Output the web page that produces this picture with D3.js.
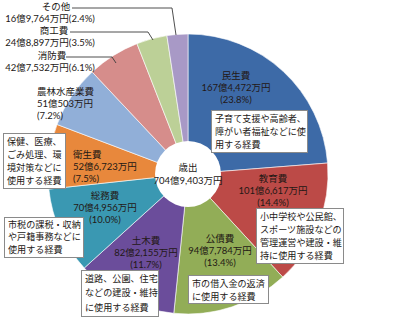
<!DOCTYPE html>
<html><head><meta charset="utf-8">
<script src="https://cdn.jsdelivr.net/npm/d3@7"></script>
<style>
html,body{margin:0;padding:0;background:#fff;}
svg{display:block;font-family:Lato,"Noto Sans CJK JP","Noto Sans",sans-serif;}
.lab{font-family:Lato,"Noto Sans CJK JP","Noto Sans",sans-serif;color:#231815;white-space:nowrap;margin:0;padding:0;}
.box{font-family:Lato,"Noto Sans CJK JP","Noto Sans",sans-serif;color:#231815;white-space:nowrap;background:#fff;
  border:1px solid #8a8a8a;box-sizing:border-box;width:100%;height:100%;padding:0 0 0 3px;}
</style></head>
<body><svg id="c" width="400" height="319"></svg>
<script>
// ---- data ----
const categories = ["民生費","教育費","公債費","土木費","総務費","衛生費","農林水産業費","消防費","商工費","その他"];
const valuesMan = [1674472,1016617,947784,822155,704956,526723,510503,427532,248897,169764]; // 万円
const descriptions = [
  ["子育て支援や高齢者、","障がい者福祉などに使","用する経費"],
  ["小中学校や公民館、","スポーツ施設などの","管理運営や建設・維","持に使用する経費"],
  ["市の借入金の返済","に使用する経費"],
  ["道路、公園、住宅","などの建設・維持","に使用する経費"],
  ["市税の課税・収納","や戸籍事務などに","使用する経費"],
  ["保健、医療、","ごみ処理、環","境対策などに","使用する経費"],
  null,null,null,null
];
const centerTitle = "歳出";
const colors = ["#3D6AA7","#BC4A47","#92AD57","#6B4D9B","#3A98B2","#E8883C","#91AFD8","#D68D8B","#BCD097","#A899C6"];

// ---- layout ----
const W=400,H=319,cx=188,cy=174,R=140,r0=33;
const fs=9.5, bfs=9.1, lhLabel=12;
const labelLayout = [
  {x:236,y:76,anchor:"middle"},
  {x:273,y:179,anchor:"middle"},
  {x:220,y:239,anchor:"middle"},
  {x:146,y:241,anchor:"middle"},
  {x:105,y:196,anchor:"middle"},
  {x:73,y:155,anchor:"start"},
  {x:37,y:92,anchor:"start"},
  {x:50,y:56,anchor:"middle",titleDx:2,leader:[[66,57],[112,57],[116,63]]},
  {x:50,y:31,anchor:"middle",titleDx:4,leader:[[70,32],[148,32],[153,40]]},
  {x:50,y:7,anchor:"middle",titleDx:6,leader:[[72,8],[172,8],[176,35]]}
];
const boxLayout = [
  {x:211,y:110,w:97,h:43},
  {x:256,y:208,w:88,h:56},
  {x:188,y:275,w:81,h:29},
  {x:81,y:270,w:78,h:47},
  {x:4,y:217,w:80,h:41},
  {x:3,y:133,w:63,h:56}
];

const svg=d3.select("#c");
const total=d3.sum(valuesMan);
const fmtAmt=v=>{const oku=Math.floor(v/10000),man=v%10000;return oku+"億"+(man?d3.format(",")(man)+"万円":"万円");};
const pct=v=>(v/total*100).toFixed(1)+"%";

const pie=d3.pie().sort(null).value(d=>d)(valuesMan);
const arc=d3.arc().innerRadius(0).outerRadius(R);
const g=svg.append("g").attr("transform",`translate(${cx},${cy})`);
g.selectAll("path").data(pie).join("path")
  .attr("d",arc).attr("fill",(d,i)=>colors[i])
  .attr("stroke","#fff").attr("stroke-width",0.6);
g.append("circle").attr("r",r0).attr("fill","#fff");

const line=d3.line();
labelLayout.forEach(L=>{
  if(L.leader){
    svg.append("path").attr("d",line(L.leader)).attr("fill","none")
      .attr("stroke","#3a3a3a").attr("stroke-width",0.9);
  }
});

function htmlLabel(x,y,w,h,align,lines,size,lh,offsets){
  const fo=svg.append("foreignObject").attr("x",x).attr("y",y).attr("width",w).attr("height",h);
  const div=fo.append("xhtml:div").attr("class","lab")
    .style("font-size",size+"px").style("line-height",lh+"px").style("text-align",align);
  lines.forEach((s,k)=>{
    const d=div.append("xhtml:div").text(s);
    if(offsets&&offsets[k]) d.style("position","relative").style("left",offsets[k]+"px");
  });
}

htmlLabel(cx-40,cy-13,80,28,"center",[centerTitle,fmtAmt(total)],fs,13);

categories.forEach((c,i)=>{
  const L=labelLayout[i];
  const w=110;
  const x=L.anchor==="middle"?L.x-w/2:L.x;
  const align=L.anchor==="middle"?"center":"left";
  if(L.leader){
    htmlLabel(x,L.y-lhLabel/2,w,lhLabel*2+2,align,
      [c,fmtAmt(valuesMan[i])+"("+pct(valuesMan[i])+")"],fs,lhLabel,[L.titleDx||0,0]);
  } else {
    htmlLabel(x,L.y-lhLabel/2,w,lhLabel*3+2,align,
      [c,fmtAmt(valuesMan[i]),"("+pct(valuesMan[i])+")"],fs,lhLabel);
  }
});

descriptions.forEach((d,i)=>{
  if(!d) return;
  const B=boxLayout[i];
  const fo=svg.append("foreignObject").attr("x",B.x).attr("y",B.y).attr("width",B.w).attr("height",B.h);
  const lh=(B.h-3)/d.length;
  const div=fo.append("xhtml:div").attr("class","box")
    .style("font-size",bfs+"px").style("line-height",lh+"px").style("padding-top","0.5px");
  d.forEach(s=>div.append("xhtml:div").text(s));
});
</script></body></html>
